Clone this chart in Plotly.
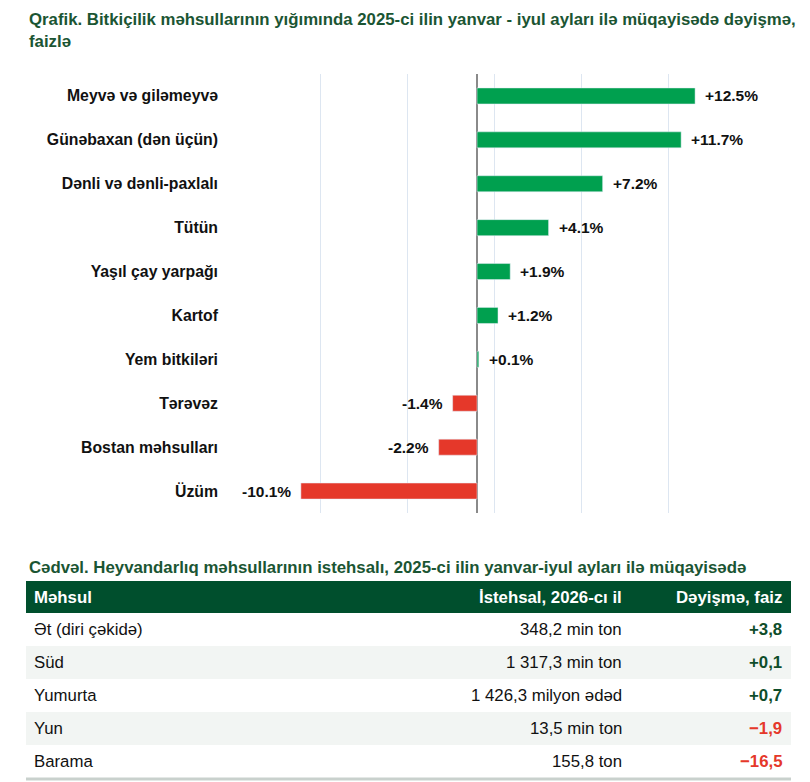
import plotly.graph_objs as go

# crop harvest change, % vs Jan-Jul 2025
crops = ["Meyvə və giləmeyvə", "Günəbaxan (dən üçün)", "Dənli və dənli-paxlalı",
         "Tütün", "Yaşıl çay yarpağı", "Kartof", "Yem bitkiləri",
         "Tərəvəz", "Bostan məhsulları", "Üzüm"]
crop_change = [12.5, 11.7, 7.2, 4.1, 1.9, 1.2, 0.1, -1.4, -2.2, -10.1]

# livestock table
products = ["Ət (diri çəkidə)", "Süd", "Yumurta", "Yun", "Barama"]
production = ["348,2 min ton", "1 317,3 min ton", "1 426,3 milyon ədəd",
              "13,5 min ton", "155,8 ton"]
prod_change = [3.8, 0.1, 0.7, -1.9, -16.5]
table_header = ["Məhsul", "İstehsal, 2026-cı il", "Dəyişmə, faiz"]

chart_title = ("Qrafik. Bitkiçilik məhsullarının yığımında 2025-ci ilin yanvar - iyul ayları "
               "ilə müqayisədə dəyişmə,<br>faizlə")
table_title = ("Cədvəl. Heyvandarlıq məhsullarının istehsalı, 2025-ci ilin yanvar-iyul ayları "
               "ilə müqayisədə")

GREEN = "#00a04f"
RED = "#e5382a"
DARK = "#1b5533"
HEAD = "#004f2d"
FONT = "Liberation Sans, Arial, sans-serif"
W, H = 810, 782


def px(y):
    return 1 - y / H


def fx(x):
    return x / W


bar_colors = [GREEN if v >= 0 else RED for v in crop_change]
traces = [go.Bar(x=crop_change, y=crops, orientation="h", marker_color=bar_colors,
                 hoverinfo="skip")]

annotations = [
    dict(text="<b>%s</b>" % chart_title, x=fx(27), y=px(8), xref="paper", yref="paper",
         xanchor="left", yanchor="top", align="left", showarrow=False,
         font=dict(family=FONT, size=16.8, color=DARK)),
    dict(text="<b>%s</b>" % table_title, x=fx(27), y=px(567), xref="paper", yref="paper",
         xanchor="left", yanchor="middle", showarrow=False,
         font=dict(family=FONT, size=16.8, color=DARK)),
]
for c, v in zip(crops, crop_change):
    lbl = ("+%.1f%%" % v) if v >= 0 else ("%.1f%%" % v)
    annotations.append(dict(text="<b>%s</b>" % lbl, x=v, y=c, xref="x", yref="y",
                            xanchor="left" if v >= 0 else "right",
                            xshift=8 if v >= 0 else -8, showarrow=False,
                            font=dict(family=FONT, size=15.5, color="#111")))

# table drawn by hand: row bands as shapes, cells as annotations
tab_l, tab_r = 26, 791
head_top, head_h, row_h = 581, 32, 33
col_x = [32, 624, 784]
col_anchor = ["left", "right", "right"]

shapes = [dict(type="rect", xref="paper", yref="paper", x0=fx(tab_l), x1=fx(tab_r),
               y0=px(head_top + head_h), y1=px(head_top), fillcolor=HEAD, line_width=0,
               layer="below")]
for j, h in enumerate(table_header):
    annotations.append(dict(text="<b>%s</b>" % h, x=fx(col_x[j]), y=px(head_top + head_h / 2),
                            xref="paper", yref="paper", xanchor=col_anchor[j],
                            yanchor="middle", showarrow=False,
                            font=dict(family=FONT, size=16.8, color="white")))

for i in range(len(products)):
    top = head_top + head_h + i * row_h
    if i % 2 == 1:
        shapes.append(dict(type="rect", xref="paper", yref="paper", x0=fx(tab_l),
                           x1=fx(tab_r), y0=px(top + row_h), y1=px(top),
                           fillcolor="#f2f5f3", line_width=0, layer="below"))
    v = prod_change[i]
    chg = ("+" if v >= 0 else "−") + f"{abs(v):.1f}".replace(".", ",")
    cells = [products[i], production[i], "<b>%s</b>" % chg]
    colors = ["#111", "#111", "#0e4d2a" if v >= 0 else RED]
    for j in range(3):
        annotations.append(dict(text=cells[j], x=fx(col_x[j]), y=px(top + row_h / 2),
                                xref="paper", yref="paper", xanchor=col_anchor[j],
                                yanchor="middle", showarrow=False,
                                font=dict(family=FONT, size=16.8, color=colors[j])))

bottom = head_top + head_h + len(products) * row_h
shapes.append(dict(type="line", xref="paper", yref="paper", x0=fx(tab_l), x1=fx(tab_r),
                   y0=px(bottom + 1), y1=px(bottom + 1),
                   line=dict(color="#c9d1cd", width=3)))

layout = go.Layout(
    width=W, height=H, showlegend=False,
    margin=dict(l=0, r=0, t=0, b=0),
    paper_bgcolor="white", plot_bgcolor="white",
    font=dict(family=FONT, color="#111"),
    bargap=0.635,
    xaxis=dict(domain=[fx(232), fx(757)], range=[-14.05, 16.05], tick0=-14, dtick=5,
               showticklabels=False, showgrid=True, gridcolor="#dde6f1", gridwidth=1,
               zeroline=True, zerolinecolor="#8a8a8a", zerolinewidth=1.5,
               fixedrange=True),
    yaxis=dict(domain=[px(513), px(74)], autorange="reversed", showgrid=False,
               zeroline=False, ticks="", ticklabelstandoff=13, fixedrange=True,
               tickmode="array", tickvals=crops,
               ticktext=["<b>%s</b>" % c for c in crops],
               tickfont=dict(family=FONT, size=15.8, color="#111")),
    annotations=annotations,
    shapes=shapes,
)

fig = go.Figure(data=traces, layout=layout)
# drop the default page margin so the figure sits at the window's corner
fig.write_html("out.html", config={"displayModeBar": False},
               post_script="document.body.style.margin='0';")
